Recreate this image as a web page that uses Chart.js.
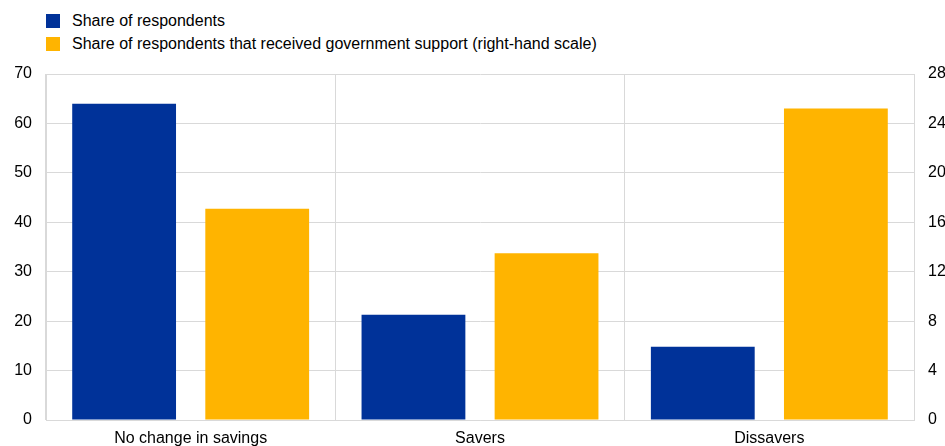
<!DOCTYPE html>
<html>
<head>
<meta charset="utf-8">
<script src="https://cdn.jsdelivr.net/npm/chart.js@4.4.1/dist/chart.umd.min.js"></script>
<style>
  html, body { margin: 0; padding: 0; background: #fff; overflow: hidden; }
  #wrap { position: relative; width: 945px; height: 446px; overflow: hidden; }
  #box { position: absolute; left: 0; top: 0; width: 945px; height: 460px; }
  .legend { position: absolute; left: 46px; top: 9px; font: 16px "Liberation Sans", Arial, sans-serif; color: #000; }
  .legend div { height: 23px; display: flex; align-items: center; }
  .legend span { display: inline-block; width: 14px; height: 14px; margin-right: 12px; }
</style>
</head>
<body>
<div id="wrap">
  <div class="legend">
    <div><span style="background:#003299"></span>Share of respondents</div>
    <div><span style="background:#ffb400"></span>Share of respondents that received government support (right-hand scale)</div>
  </div>
  <div id="box"><canvas id="chart"></canvas></div>
</div>
<script>
const categories = ["No change in savings", "Savers", "Dissavers"]
const shareRespondents = [64, 21.3, 14.8]
const shareSupported = [17.1, 13.5, 25.2]
const leftTicks = [0, 10, 20, 30, 40, 50, 60, 70]
const rightTicks = [0, 4, 8, 12, 16, 20, 24, 28]

const font = { family: '"Liberation Sans", Arial, sans-serif', size: 16 }
const gridColor = "#d9d9d9"

new Chart(document.getElementById("chart"), {
  type: "bar",
  data: {
    labels: categories,
    datasets: [
      {
        label: "Share of respondents",
        data: shareRespondents,
        backgroundColor: "#003299",
        yAxisID: "y",
        categoryPercentage: 0.92,
        barPercentage: 0.78,
      },
      {
        label: "Share of respondents that received government support (right-hand scale)",
        data: shareSupported,
        backgroundColor: "#ffb400",
        yAxisID: "y1",
        categoryPercentage: 0.92,
        barPercentage: 0.78,
      },
    ],
  },
  options: {
    responsive: true,
    maintainAspectRatio: false,
    animation: false,
    layout: { padding: { top: 74, left: 0, right: 0, bottom: 0 } },
    plugins: { legend: { display: false }, tooltip: { enabled: false } },
    scales: {
      x: {
        grid: { color: gridColor, drawTicks: false, offset: true },
        border: { color: gridColor },
        ticks: { color: "#000", font, padding: 9 },
        afterFit: (s) => { s.height = 40 },
      },
      y: {
        position: "left",
        min: 0,
        max: 70,
        afterBuildTicks: (s) => { s.ticks = leftTicks.map((v) => ({ value: v })) },
        grid: { color: gridColor, drawTicks: false },
        border: { color: gridColor },
        ticks: { color: "#000", font, padding: 14 },
        afterFit: (s) => { s.width = 46 },
      },
      y1: {
        position: "right",
        min: 0,
        max: 28,
        afterBuildTicks: (s) => { s.ticks = rightTicks.map((v) => ({ value: v })) },
        grid: { drawOnChartArea: false, drawTicks: false },
        border: { color: gridColor },
        ticks: { color: "#000", font, padding: 14 },
        afterFit: (s) => { s.width = 31 },
      },
    },
  },
})
</script>
</body>
</html>
